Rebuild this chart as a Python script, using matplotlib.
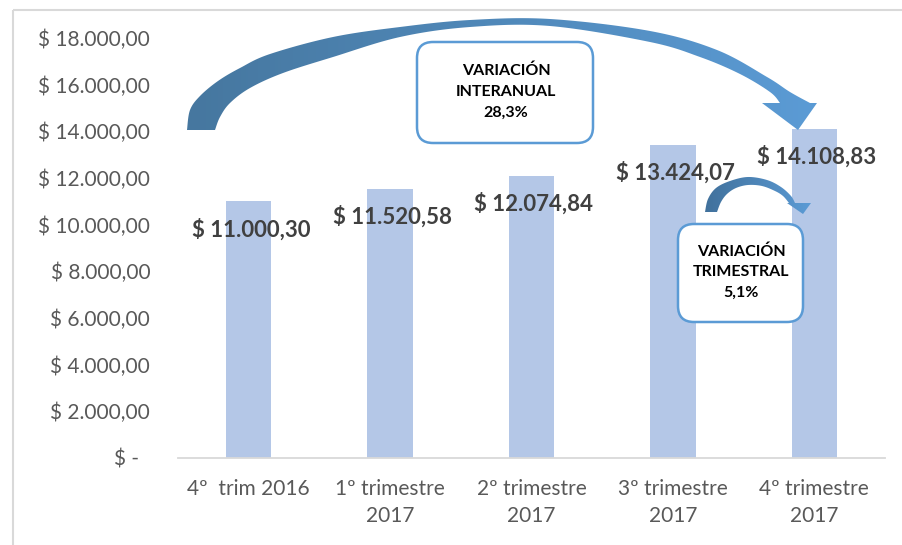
import numpy as np
import matplotlib
matplotlib.use("Agg")
import matplotlib.pyplot as plt
from matplotlib.patches import Polygon, FancyBboxPatch, Rectangle
from matplotlib.colors import LinearSegmentedColormap
from matplotlib.ticker import FixedLocator

# ── Data ──────────────────────────────────────────────────────────────────────
categories = ["4º  trim 2016", "1º trimestre\n2017", "2º trimestre\n2017",
              "3º trimestre\n2017", "4º trimestre\n2017"]
values = [11000.30, 11520.58, 12074.84, 13424.07, 14108.83]
value_labels = ["$ 11.000,30", "$ 11.520,58", "$ 12.074,84", "$ 13.424,07", "$ 14.108,83"]
yticks = [0, 2000, 4000, 6000, 8000, 10000, 12000, 14000, 16000, 18000]
ytick_labels = ["$ -  ", "$ 2.000,00", "$ 4.000,00", "$ 6.000,00", "$ 8.000,00",
                "$ 10.000,00", "$ 12.000,00", "$ 14.000,00", "$ 16.000,00", "$ 18.000,00"]
box_interanual = "VARIACIÓN\nINTERANUAL\n28,3%"
box_trimestral = "VARIACIÓN\nTRIMESTRAL\n5,1%"

BAR_COLOR = "#b4c7e7"
TEXT_GREY = "#595959"
LABEL_DARK = "#404040"
AXIS_GREY = "#d9d9d9"
BOX_EDGE = "#5b9bd5"

plt.rcParams["font.family"] = ["Lato", "DejaVu Sans"]

W, H = 903, 545
fig = plt.figure(figsize=(W / 100, H / 100), dpi=100)
fig.patch.set_facecolor("white")

ax = fig.add_axes([178 / W, 1 - 458 / H, (885 - 178) / W, (458 - 38) / H])
x = np.arange(len(values))
ax.bar(x, values, width=0.32, color=BAR_COLOR, zorder=2)
ax.set_xlim(-0.5, len(values) - 0.5)
ax.set_ylim(0, 18000)
ax.yaxis.set_major_locator(FixedLocator(yticks))
ax.set_yticklabels(ytick_labels, fontsize=15, color=TEXT_GREY)
ax.set_xticks(x)
ax.set_xticklabels(categories, fontsize=15, color=TEXT_GREY, linespacing=1.45)
ax.tick_params(axis="both", length=0)
ax.tick_params(axis="y", pad=20)
ax.tick_params(axis="x", pad=15)
for s in ["top", "right", "left"]:
    ax.spines[s].set_visible(False)
ax.spines["bottom"].set_color(AXIS_GREY)
ax.spines["bottom"].set_linewidth(1.3)
ax.set_facecolor("none")

for xi, v, lab in zip(x, values, value_labels):
    ax.annotate(lab, (xi, v), xytext=(1.5, -20), textcoords="offset points",
                ha="center", va="center", fontsize=16, fontweight="bold",
                color=LABEL_DARK, zorder=3)

# ── Overlay in pixel coordinates (arrows, boxes, frame) ──────────────────────
ov = fig.add_axes([0, 0, 1, 1], zorder=5)
ov.set_facecolor("none")
ov.axis("off")


def catmull(pts, n=20):
    pts = np.asarray(pts, float)
    p = np.vstack([pts[0], pts, pts[-1]])
    out = []
    for i in range(1, len(p) - 2):
        p0, p1, p2, p3 = p[i - 1], p[i], p[i + 1], p[i + 2]
        for t in np.linspace(0, 1, n, endpoint=False):
            out.append(0.5 * ((2 * p1) + (-p0 + p2) * t +
                              (2 * p0 - 5 * p1 + 4 * p2 - p3) * t ** 2 +
                              (-p0 + 3 * p1 - 3 * p2 + p3) * t ** 3))
    out.append(pts[-1])
    return np.array(out)


def grad_arrow(outer, head, inner, c0, c1):
    poly = np.vstack([catmull(outer), head, catmull(inner)])
    patch = Polygon(poly, closed=True, facecolor="none", edgecolor="none")
    ov.add_patch(patch)
    x0, x1 = poly[:, 0].min(), poly[:, 0].max()
    y0, y1 = poly[:, 1].min(), poly[:, 1].max()
    cmap = LinearSegmentedColormap.from_list("g", [c0, c1])
    im = ov.imshow(np.linspace(0, 1, 256)[None, :], cmap=cmap, aspect="auto",
                   extent=[x0, x1, y1, y0], interpolation="bilinear")
    im.set_clip_path(patch)


# big interanual arrow
grad_arrow(
    outer=[(187, 130), (190, 110), (200, 96), (218, 81), (240, 68), (270, 54),
           (333, 37), (400, 27), (470, 20), (550, 19), (650, 31),
           (717, 50), (767, 77), (790, 92), (810, 103)],
    head=[(817, 103), (798, 130), (762, 103)],
    inner=[(780, 103), (770, 92), (740, 74), (700, 57), (650, 42), (550, 26),
           (470, 27), (400, 37), (333, 57), (283, 73), (250, 88),
           (230, 103), (220, 117), (215, 130)],
    c0="#46779f", c1="#5b9bd5")

# small trimestral arrow
grad_arrow(
    outer=[(705, 212), (708, 199), (716, 188), (730, 181), (748, 177),
           (767, 180), (781, 187), (791, 196), (795, 203)],
    head=[(811, 203), (803, 214), (787, 203)],
    inner=[(789, 203), (783, 196), (775, 191), (762, 186), (748, 185),
           (736, 188), (727, 194), (721, 202), (717, 212)],
    c0="#41719c", c1="#5b9bd5")

ov.set_xlim(0, W)
ov.set_ylim(H, 0)

# text boxes
for (bx0, by0, bx1, by1), txt in [((417, 42, 593, 143), box_interanual),
                                  ((678, 224, 803, 322), box_trimestral)]:
    ov.add_patch(FancyBboxPatch((bx0, by0), bx1 - bx0, by1 - by0,
                                boxstyle="round,pad=0,rounding_size=16",
                                facecolor="white", edgecolor=BOX_EDGE,
                                linewidth=1.8))
    ov.text((bx0 + bx1) / 2 + 1, (by0 + by1) / 2 - 1, txt, ha="center", va="center",
            fontsize=11.5, fontweight="bold", color="black", linespacing=1.6)

# outer chart frame
ov.add_patch(Rectangle((13, 10), 920, 560, facecolor="none",
                       edgecolor=AXIS_GREY, linewidth=1.5))

fig.savefig("out.png", dpi=100, facecolor="white")
